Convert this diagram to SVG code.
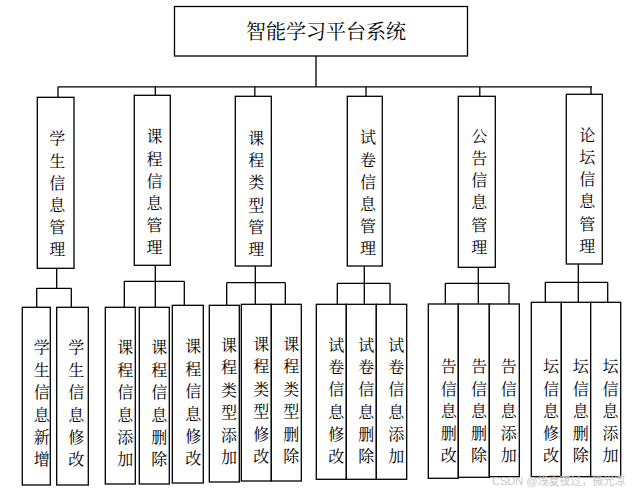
<svg xmlns="http://www.w3.org/2000/svg" width="636" height="492" viewBox="0 0 636 492">
<style>
.b{fill:#fff;stroke:#000;stroke-width:1.3}
.c{fill:none;stroke:#000;stroke-width:1.3}
text{font-family:"Noto Serif CJK SC","Noto Sans CJK SC",sans-serif;fill:#000;text-anchor:middle;dominant-baseline:central}
.t2{font-size:16px}
.t1{font-size:20px}
.wm{font-family:"Liberation Sans","Noto Sans CJK SC",sans-serif;font-size:11px;fill:#c8c8c8;text-anchor:start}
</style>
<rect width="636" height="492" fill="#fff"/>
<g id="connectors">
<path class="c" d="M316,56V86.8M58,86.8H592M58,86.8V97.3M155.3,86.8V95.3M254.8,86.8V96.3M366,86.8V96.3M479.8,86.8V96.3M591,86.8V94.3"/>
<path class="c" d="M56.7,268.3V288.3M36.7,288.3H71.3M36.7,288.3V307.3M71.3,288.3V307.3"/>
<path class="c" d="M155.3,265.3V307.3M124.3,281.3H184.3M124.3,281.3V307.3M184.3,281.3V305.3"/>
<path class="c" d="M255.3,266V304.3M226.7,282.7H285.3M226.7,282.7V305.3M285.3,282.7V304.3"/>
<path class="c" d="M364.3,266V304.3M337.3,283.3H390M337.3,283.3V304.3M390,283.3V304.3"/>
<path class="c" d="M478.3,267.3V304M445.3,283.3H509M445.3,283.3V304M509,283.3V304"/>
<path class="c" d="M578.3,264V302.3M545.3,282.3H607.7M545.3,282.3V302.3M607.7,282.3V302.3"/>
</g>
<g id="root"><rect class="b" x="174.5" y="6.5" width="293" height="49.5"/><text class="t1" x="326" y="30">智能学习平台系统</text></g>

<g id="n1"><rect class="b" x="37.3" y="97.3" width="36.7" height="171"/>
<text class="t2" x="57.2" y="137.3"><tspan x="57.2">学</tspan><tspan x="57.2" dy="22.2">生</tspan><tspan x="57.2" dy="22.2">信</tspan><tspan x="57.2" dy="22.2">息</tspan><tspan x="57.2" dy="22.2">管</tspan><tspan x="57.2" dy="22.2">理</tspan></text></g>
<g id="n2"><rect class="b" x="134.3" y="95.3" width="36" height="170"/>
<text class="t2" x="154.5" y="135.3"><tspan x="154.5">课</tspan><tspan x="154.5" dy="22.2">程</tspan><tspan x="154.5" dy="22.2">信</tspan><tspan x="154.5" dy="22.2">息</tspan><tspan x="154.5" dy="22.2">管</tspan><tspan x="154.5" dy="22.2">理</tspan></text></g>
<g id="n3"><rect class="b" x="235.3" y="96.3" width="36" height="169.7"/>
<text class="t2" x="256.2" y="137"><tspan x="256.2">课</tspan><tspan x="256.2" dy="22.2">程</tspan><tspan x="256.2" dy="22.2">类</tspan><tspan x="256.2" dy="22.2">型</tspan><tspan x="256.2" dy="22.2">管</tspan><tspan x="256.2" dy="22.2">理</tspan></text></g>
<g id="n4"><rect class="b" x="347.3" y="96.3" width="35" height="169.7"/>
<text class="t2" x="368" y="136.3"><tspan x="368">试</tspan><tspan x="368" dy="22.2">卷</tspan><tspan x="368" dy="22.2">信</tspan><tspan x="368" dy="22.2">息</tspan><tspan x="368" dy="22.2">管</tspan><tspan x="368" dy="22.2">理</tspan></text></g>
<g id="n5"><rect class="b" x="458.3" y="96.3" width="37" height="171"/>
<text class="t2" x="479.2" y="134.7"><tspan x="479.2">公</tspan><tspan x="479.2" dy="22.2">告</tspan><tspan x="479.2" dy="22.2">信</tspan><tspan x="479.2" dy="22.2">息</tspan><tspan x="479.2" dy="22.2">管</tspan><tspan x="479.2" dy="22.2">理</tspan></text></g>
<g id="n6"><rect class="b" x="566.3" y="94.3" width="36" height="169.7"/>
<text class="t2" x="587.2" y="133.7"><tspan x="587.2">论</tspan><tspan x="587.2" dy="22.2">坛</tspan><tspan x="587.2" dy="22.2">信</tspan><tspan x="587.2" dy="22.2">息</tspan><tspan x="587.2" dy="22.2">管</tspan><tspan x="587.2" dy="22.2">理</tspan></text></g>

<g id="l1"><rect class="b" x="22.3" y="307.3" width="28" height="177.7"/>
<text class="t2" x="41.8" y="346.3"><tspan x="41.8">学</tspan><tspan x="41.8" dy="22.4">生</tspan><tspan x="41.8" dy="22.4">信</tspan><tspan x="41.8" dy="22.4">息</tspan><tspan x="41.8" dy="22.4">新</tspan><tspan x="41.8" dy="22.4">增</tspan></text></g>
<g id="l2"><rect class="b" x="56.7" y="307.3" width="31.6" height="177.7"/>
<text class="t2" x="76.2" y="346.3"><tspan x="76.2">学</tspan><tspan x="76.2" dy="22.4">生</tspan><tspan x="76.2" dy="22.4">信</tspan><tspan x="76.2" dy="22.4">息</tspan><tspan x="76.2" dy="22.4">修</tspan><tspan x="76.2" dy="22.4">改</tspan></text></g>
<g id="l3"><rect class="b" x="105.3" y="307.3" width="30" height="176.7"/>
<text class="t2" x="125.3" y="346.3"><tspan x="125.3">课</tspan><tspan x="125.3" dy="22.4">程</tspan><tspan x="125.3" dy="22.4">信</tspan><tspan x="125.3" dy="22.4">息</tspan><tspan x="125.3" dy="22.4">添</tspan><tspan x="125.3" dy="22.4">加</tspan></text></g>
<g id="l4"><rect class="b" x="139.3" y="307.3" width="30" height="176.7"/>
<text class="t2" x="159.2" y="346.3"><tspan x="159.2">课</tspan><tspan x="159.2" dy="22.4">程</tspan><tspan x="159.2" dy="22.4">信</tspan><tspan x="159.2" dy="22.4">息</tspan><tspan x="159.2" dy="22.4">删</tspan><tspan x="159.2" dy="22.4">除</tspan></text></g>
<g id="l5"><rect class="b" x="172.3" y="305.3" width="31" height="177.7"/>
<text class="t2" x="193.3" y="345.3"><tspan x="193.3">课</tspan><tspan x="193.3" dy="22.4">程</tspan><tspan x="193.3" dy="22.4">信</tspan><tspan x="193.3" dy="22.4">息</tspan><tspan x="193.3" dy="22.4">修</tspan><tspan x="193.3" dy="22.4">改</tspan></text></g>
<g id="l6"><rect class="b" x="209.3" y="305.3" width="30" height="176.7"/>
<text class="t2" x="229" y="344"><tspan x="229">课</tspan><tspan x="229" dy="22.4">程</tspan><tspan x="229" dy="22.4">类</tspan><tspan x="229" dy="22.4">型</tspan><tspan x="229" dy="22.4">添</tspan><tspan x="229" dy="22.4">加</tspan></text></g>
<g id="l7"><rect class="b" x="241.3" y="304.3" width="30" height="176.7"/>
<text class="t2" x="261.3" y="343"><tspan x="261.3">课</tspan><tspan x="261.3" dy="22.4">程</tspan><tspan x="261.3" dy="22.4">类</tspan><tspan x="261.3" dy="22.4">型</tspan><tspan x="261.3" dy="22.4">修</tspan><tspan x="261.3" dy="22.4">改</tspan></text></g>
<g id="l8"><rect class="b" x="271.3" y="304.3" width="30" height="176.7"/>
<text class="t2" x="291.3" y="343"><tspan x="291.3">课</tspan><tspan x="291.3" dy="22.4">程</tspan><tspan x="291.3" dy="22.4">类</tspan><tspan x="291.3" dy="22.4">型</tspan><tspan x="291.3" dy="22.4">删</tspan><tspan x="291.3" dy="22.4">除</tspan></text></g>

<g id="l9"><rect class="b" x="316.3" y="304.3" width="30" height="175"/>
<text class="t2" x="336.2" y="344"><tspan x="336.2">试</tspan><tspan x="336.2" dy="22.2">卷</tspan><tspan x="336.2" dy="22.2">信</tspan><tspan x="336.2" dy="22.2">息</tspan><tspan x="336.2" dy="22.2">修</tspan><tspan x="336.2" dy="22.2">改</tspan></text></g>
<g id="l10"><rect class="b" x="346.3" y="304.3" width="30" height="175"/>
<text class="t2" x="366.2" y="344"><tspan x="366.2">试</tspan><tspan x="366.2" dy="22.2">卷</tspan><tspan x="366.2" dy="22.2">信</tspan><tspan x="366.2" dy="22.2">息</tspan><tspan x="366.2" dy="22.2">删</tspan><tspan x="366.2" dy="22.2">除</tspan></text></g>
<g id="l11"><rect class="b" x="376.3" y="304.3" width="30.4" height="175"/>
<text class="t2" x="396.2" y="344"><tspan x="396.2">试</tspan><tspan x="396.2" dy="22.2">卷</tspan><tspan x="396.2" dy="22.2">信</tspan><tspan x="396.2" dy="22.2">息</tspan><tspan x="396.2" dy="22.2">添</tspan><tspan x="396.2" dy="22.2">加</tspan></text></g>

<g id="l12"><rect class="b" x="428.3" y="304" width="30" height="174.3"/>
<text class="t2" x="448.8" y="365.3"><tspan x="448.8">告</tspan><tspan x="448.8" dy="22.2">信</tspan><tspan x="448.8" dy="22.2">息</tspan><tspan x="448.8" dy="22.2">删</tspan><tspan x="448.8" dy="22.2">改</tspan></text></g>
<g id="l13"><rect class="b" x="458.3" y="304" width="31" height="173.3"/>
<text class="t2" x="479" y="365.3"><tspan x="479">告</tspan><tspan x="479" dy="22.2">信</tspan><tspan x="479" dy="22.2">息</tspan><tspan x="479" dy="22.2">删</tspan><tspan x="479" dy="22.2">除</tspan></text></g>
<g id="l14"><rect class="b" x="489.3" y="304" width="30" height="172.7"/>
<text class="t2" x="508.8" y="365.3"><tspan x="508.8">告</tspan><tspan x="508.8" dy="22.2">信</tspan><tspan x="508.8" dy="22.2">息</tspan><tspan x="508.8" dy="22.2">添</tspan><tspan x="508.8" dy="22.2">加</tspan></text></g>

<g id="l15"><rect class="b" x="531.3" y="302.3" width="30" height="174.4"/>
<text class="t2" x="551" y="365.3"><tspan x="551">坛</tspan><tspan x="551" dy="22.2">信</tspan><tspan x="551" dy="22.2">息</tspan><tspan x="551" dy="22.2">修</tspan><tspan x="551" dy="22.2">改</tspan></text></g>
<g id="l16"><rect class="b" x="561.3" y="302.3" width="29.4" height="174.4"/>
<text class="t2" x="580.8" y="365.3"><tspan x="580.8">坛</tspan><tspan x="580.8" dy="22.2">信</tspan><tspan x="580.8" dy="22.2">息</tspan><tspan x="580.8" dy="22.2">删</tspan><tspan x="580.8" dy="22.2">除</tspan></text></g>
<g id="l17"><rect class="b" x="590.7" y="302.3" width="30" height="174.4"/>
<text class="t2" x="610.5" y="365.3"><tspan x="610.5">坛</tspan><tspan x="610.5" dy="22.2">信</tspan><tspan x="610.5" dy="22.2">息</tspan><tspan x="610.5" dy="22.2">添</tspan><tspan x="610.5" dy="22.2">加</tspan></text></g>

<text class="wm" x="492" y="480.5">CSDN @浅夏夜过，微光凉</text>
</svg>
